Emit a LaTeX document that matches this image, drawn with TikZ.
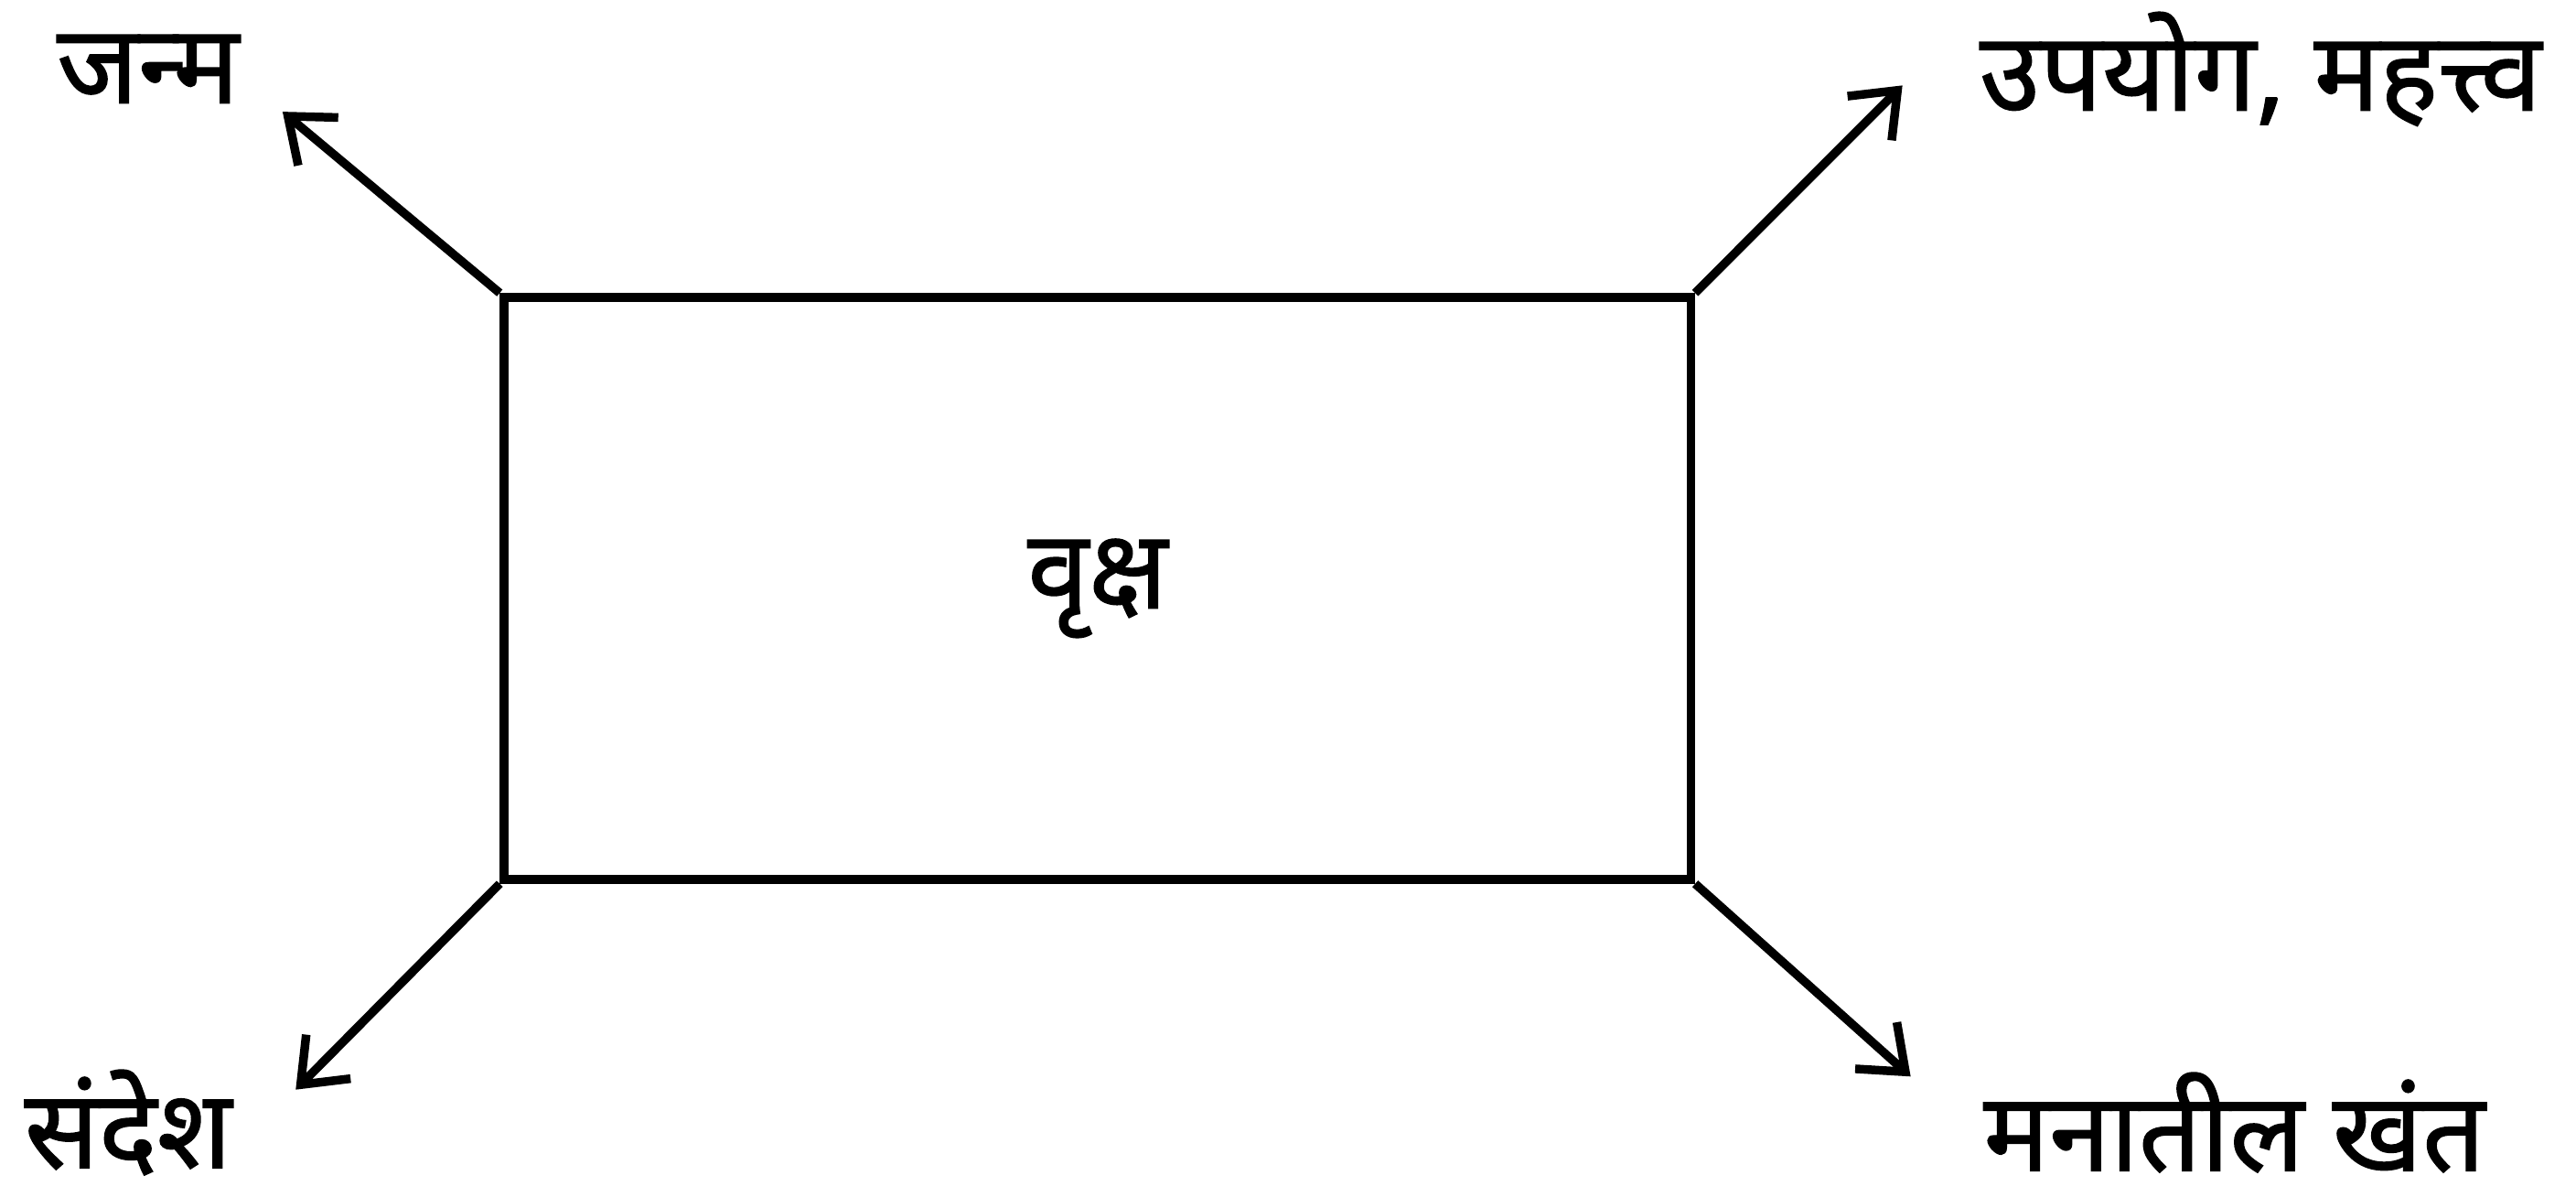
\documentclass[tikz,border=0pt]{standalone}
\usepackage{fontspec}
\newfontfamily\devfont[Script=Devanagari,FakeBold=1.2]{Noto Sans}
\usetikzlibrary{positioning}
\usetikzlibrary{arrows.meta}

\begin{document}
\begin{tikzpicture}[x=0.01cm,y=-0.01cm,
    lbl/.style={font=\devfont\fontsize{19}{22}\selectfont, inner sep=0pt},
    arr/.style={-{Straight Barb[length=2.4mm,width=3.8mm]}, line width=1.5pt}]
          \useasboundingbox (0,0) rectangle (1568,728);
          \node[draw, line width=1.5pt, minimum width=7.22cm, minimum height=3.54cm, lbl] (vruksha) at (668,358) {वृक्ष};

          \coordinate (tipJanma) at (172,68);
          \coordinate (tipUpayog) at (1158,52);
          \coordinate (tipSandesh) at (180,663);
          \coordinate (tipKhant) at (1163,655);

          \draw[arr] (vruksha.north west) -- (tipJanma);
          \draw[arr] (vruksha.north east) -- (tipUpayog);
          \draw[arr] (vruksha.south west) -- (tipSandesh);
          \draw[arr] (vruksha.south east) -- (tipKhant);

          \node[lbl] (janma) at (90,42) {जन्म};
          \node[lbl] (upayog) at (1376,42) {उपयोग, महत्त्व};
          \node[lbl] (sandesh) at (78,683) {संदेश};
          \node[lbl] (khant) at (1360,683) {मनातील खंत};
        \end{tikzpicture}
\end{document}
